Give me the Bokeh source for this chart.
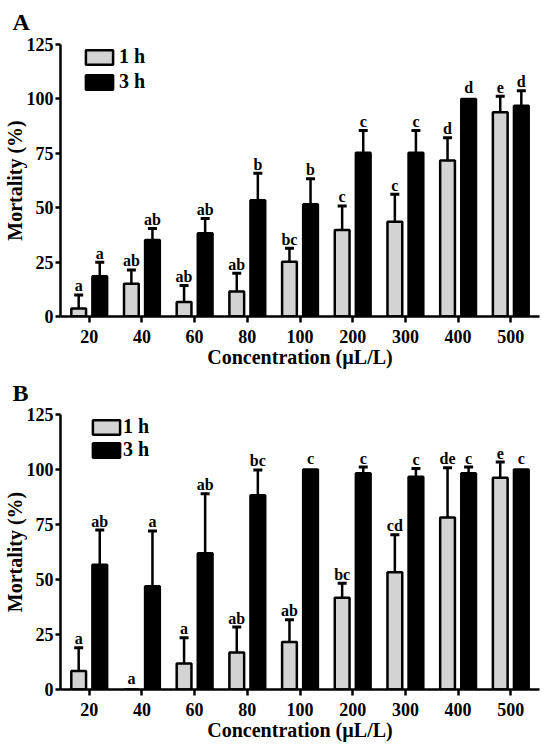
from bokeh.plotting import figure
from bokeh.models import ColumnDataSource, FactorRange, Whisker, TeeHead, FixedTicker
from bokeh.transform import dodge
from bokeh.layouts import column
from bokeh.core.properties import value
from bokeh.embed import file_html
from bokeh.resources import INLINE

# ---------------- data ----------------
conc = ["20", "40", "60", "80", "100", "200", "300", "400", "500"]
y_ticks = [0, 25, 50, 75, 100, 125]

a_1h = [3.7, 15.0, 6.7, 11.5, 25.2, 39.8, 43.5, 71.7, 93.9]
a_1h_err = [6.2, 6.4, 7.5, 8.4, 6.2, 11.0, 12.7, 10.4, 7.3]
a_3h = [18.5, 35.1, 38.3, 53.4, 51.6, 75.2, 75.2, 100.0, 96.8]
a_3h_err = [6.4, 5.3, 6.7, 12.4, 11.7, 10.3, 10.3, 0.0, 7.0]
a_1h_letters = ["a", "ab", "ab", "ab", "bc", "c", "c", "d", "e"]
a_3h_letters = ["a", "ab", "ab", "b", "b", "c", "c", "d", "d"]

b_1h = [8.4, 0.0, 11.8, 16.8, 21.6, 41.7, 53.3, 78.2, 96.3]
b_1h_err = [10.6, 0.0, 11.7, 11.6, 10.1, 6.6, 17.0, 22.6, 7.1]
b_3h = [56.7, 46.9, 61.9, 88.3, 100.0, 98.3, 96.7, 98.3, 100.0]
b_3h_err = [15.8, 25.2, 27.1, 11.5, 0.0, 2.8, 3.8, 2.8, 0.0]
b_1h_letters = ["a", "a", "a", "ab", "ab", "bc", "cd", "de", "e"]
b_3h_letters = ["ab", "a", "ab", "bc", "c", "c", "c", "c", "c"]

FONT = "Liberation Serif"
GREY = "#d3d3d3"
BLACK = "#000000"


def add_series(p, vals, errs, letters, shift, color, label):
    src = ColumnDataSource(dict(
        x=conc, top=vals,
        hi=[v + e for v, e in zip(vals, errs)],
        lab=letters,
        off=[-9 if e > 0 else -11 for e in errs],
    ))
    p.vbar(x=dodge("x", shift, range=p.x_range), top="top", width=0.28, source=src,
           fill_color=color, line_color=BLACK, line_width=2.5, legend_label=label)
    idx = [i for i, e in enumerate(errs) if e > 0]
    wsrc = ColumnDataSource(dict(
        x=[conc[i] for i in idx],
        lo=[vals[i] for i in idx],
        hi=[vals[i] + errs[i] for i in idx],
    ))
    w = Whisker(base=dodge("x", shift, range=p.x_range), lower="lo", upper="hi", source=wsrc,
                line_color=BLACK, line_width=2.5, lower_head=None,
                upper_head=TeeHead(size=9, line_width=3, line_color=BLACK))
    p.add_layout(w)
    p.text(x=dodge("x", shift, range=p.x_range), y="hi", text="lab", source=src,
           y_offset="off", text_align="center", text_baseline="alphabetic",
           text_font=value(FONT), text_font_style="bold", text_font_size="16px",
           text_color=BLACK)


def make_panel(tag, v1, e1, l1, v3, e3, l3, height, top, bottom, title_standoff,
               leg_x, leg_spacing, leg_standoff, leg_bottom_from_top):
    p = figure(x_range=FactorRange(factors=conc, range_padding=0.01, range_padding_units="percent"),
               y_range=(0, 125), width=540, height=height,
               output_backend="svg", toolbar_location=None,
               min_border_left=55, min_border_right=1,
               min_border_top=top, min_border_bottom=bottom)
    p.outline_line_color = None
    p.xgrid.visible = False
    p.ygrid.visible = False

    p.title.text = tag
    p.title.align = "left"
    p.title.vertical_align = "top"
    p.title.standoff = title_standoff
    p.title.offset = -48
    p.title.text_font = FONT
    p.title.text_font_style = "bold"
    p.title.text_font_size = "24px"
    p.title.text_color = BLACK

    add_series(p, v1, e1, l1, -0.2, GREY, "1 h")
    add_series(p, v3, e3, l3, 0.2, BLACK, "3 h")

    for ax in (p.xaxis[0], p.yaxis[0]):
        ax.axis_line_width = 2.5
        ax.axis_line_color = BLACK
        ax.major_tick_line_width = 2.5
        ax.major_tick_line_color = BLACK
        ax.major_tick_in = 0
        ax.minor_tick_line_color = None
        ax.major_label_text_font = FONT
        ax.major_label_text_font_style = "bold"
        ax.major_label_text_font_size = "18px"
        ax.major_label_text_color = BLACK
        ax.axis_label_text_font = FONT
        ax.axis_label_text_font_style = "bold"
        ax.axis_label_text_color = BLACK

    p.yaxis.ticker = FixedTicker(ticks=y_ticks)
    p.yaxis.major_tick_out = 5
    p.yaxis.major_label_standoff = 2
    p.yaxis.axis_label = "Mortality (%)"
    p.yaxis.axis_label_text_font_size = "20px"
    p.yaxis.axis_label_standoff = -2

    p.xaxis.major_tick_out = 6
    p.xaxis.major_label_standoff = 7
    p.xaxis.axis_label = "Concentration (\u00b5L/L)"
    p.xaxis.axis_label_text_font_size = "20px"
    p.xaxis.axis_label_standoff = 0

    fh = height - top - bottom
    leg = p.legend[0]
    leg.glyph_width = 34
    leg.glyph_height = 18
    leg.label_height = 20
    leg.spacing = leg_spacing
    leg.padding = 0
    leg.margin = 0
    leg.label_standoff = leg_standoff
    leg.border_line_color = None
    leg.background_fill_alpha = 0
    leg.label_text_font = FONT
    leg.label_text_font_style = "bold"
    leg.label_text_font_size = "20px"
    leg.label_text_color = BLACK
    leg.location = (leg_x, fh - leg_bottom_from_top)
    return p


pa = make_panel("A", a_1h, a_1h_err, a_1h_letters, a_3h, a_3h_err, a_3h_letters,
                height=373, top=43, bottom=57, title_standoff=16,
                leg_x=22, leg_spacing=2, leg_standoff=3, leg_bottom_from_top=50)
pb = make_panel("B", b_1h, b_1h_err, b_1h_letters, b_3h, b_3h_err, b_3h_letters,
                height=373, top=40, bottom=57, title_standoff=13,
                leg_x=29, leg_spacing=0, leg_standoff=0, leg_bottom_from_top=48)

layout = column(pa, pb, spacing=0)
open("out.html", "w").write(file_html(layout, INLINE))
